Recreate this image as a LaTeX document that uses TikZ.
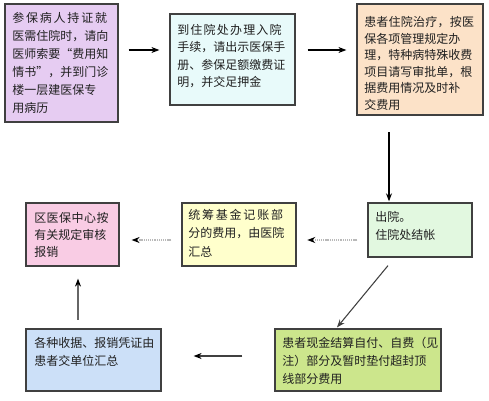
\documentclass[tikz,border=0pt]{standalone}
\usepackage{fontspec}
\newfontfamily\cjk{Noto Sans CJK SC}
\usetikzlibrary{arrows.meta,fit}
\definecolor{c1}{HTML}{E6CCF2}
\definecolor{c2}{HTML}{E8FAFA}
\definecolor{c3}{HTML}{FCE2C8}
\definecolor{c4}{HTML}{E2F8E0}
\definecolor{c5}{HTML}{FFFFCC}
\definecolor{c6}{HTML}{F9CCE4}
\definecolor{c7}{HTML}{CCE0F8}
\definecolor{c8}{HTML}{CCE68C}
\definecolor{edge}{HTML}{404040}
\definecolor{ink}{HTML}{202020}
\tikzset{
  box/.style={draw=edge, line width=0.9pt, inner sep=0pt, rectangle},
  txt/.style={inner sep=0pt, align=left, text=ink, anchor=base west,
    font=\cjk\fontsize{9}{#1}\selectfont},
  arr/.style={draw=black, line width=0.8pt, -{Stealth[length=6pt,width=4.5pt]}},
  dotarr/.style={draw=gray!55, line width=1.3pt, dash pattern=on 0.8pt off 0.6pt,
    -{Stealth[length=6pt,width=4.5pt,black]}},
  grayarr/.style={draw=gray!80!black, line width=1.1pt, -{Stealth[length=6pt,width=4.5pt,black]}},
}
\begin{document}
\begin{tikzpicture}[x=0.75pt,y=-0.75pt]
\useasboundingbox (0,0) rectangle (489,400);
% boxes
\node[box, fill=c1, fit={(5,4) (118,122)}] (b1) {};
\node[box, fill=c2, fit={(170,14) (295,105)}] (b2) {};
\node[box, fill=c3, fit={(357,4) (483,115)}] (b3) {};
\node[box, fill=c4, fit={(368,203) (472,257)}] (b4) {};
\node[box, fill=c5, fit={(182,203) (296,266)}] (b5) {};
\node[box, fill=c6, fit={(26,203) (119,266)}] (b6) {};
\node[box, fill=c7, fit={(26,329) (161,391)}] (b7) {};
\node[box, fill=c8, fit={(275,329) (441,391)}] (b8) {};
% texts (anchor = baseline of the last line)
\node[txt=13.5pt] (t1) at (12,112.5) {\addfontfeature{LetterSpace=15}参保病人持证就\\医需住院时，请向\\医师索要“费用知\\情书”，并到门诊\\楼一层建医保专\\用病历};
\node[txt=13pt] (t2) at (177,86.5) {\addfontfeature{LetterSpace=10}到住院处办理入院\\手续，请出示医保手\\册、参保足额缴费证\\明，并交足押金};
\node[txt=12.45pt] (t3) at (364,109.5) {\addfontfeature{LetterSpace=2}患者住院治疗，按医\\保各项管理规定办\\理，特种病特殊收费\\项目请写审批单，根\\据费用情况及时补\\交费用};
\node[txt=13.5pt] (t4) at (375,239.5) {出院。\\住院处结帐};
\node[txt=13.9pt] (t5) at (188,256.5) {\addfontfeature{LetterSpace=15}统筹基金记账部\\分的费用，由医院\\汇总};
\node[txt=12.75pt] (t6) at (34,256.5) {\addfontfeature{LetterSpace=4}区医保中心按\\有关规定审核\\报销};
\node[txt=13.5pt] (t7) at (34,365.5) {各种收据、报销凭证由\\患者交单位汇总};
\node[txt=13.5pt] (t8) at (282,383.5) {患者现金结算自付、自费（见\\注）部分及暂时垫付超封顶\\线部分费用};
% helper coordinates
\coordinate (ya) at (0,50);
\coordinate (yb) at (0,240);
\coordinate (yc) at (0,356);
\coordinate (xa) at (389,0);
\coordinate (xb) at (78,0);
% connectors
\draw[arr, shorten <=7.5pt, shorten >=7.5pt] (b1.east |- ya) -- (b2.west |- ya);
\draw[arr, shorten <=9pt, shorten >=7.5pt] (b2.east |- ya) -- (b3.west |- ya);
\draw[arr, shorten <=12.5pt, shorten >=0.8pt] (b3.south -| xa) -- (b4.north -| xa);
\draw[dotarr, shorten <=7.5pt, shorten >=8pt] (b4.west |- yb) -- (b5.east |- yb);
\draw[dotarr, shorten <=7.5pt, shorten >=9pt] (b5.west |- yb) -- (b6.east |- yb);
\draw[grayarr, shorten <=6.5pt, shorten >=9pt] (b7.north -| xb) -- (b6.south -| xb);
\draw[grayarr, draw=edge, shorten <=24pt, shorten >=24pt] (b8.west |- yc) -- (b7.east |- yc);
\draw[arr, draw=edge] ([shift={(-32,8)}]b4.south) -- ([shift={(-21,-1)}]b8.north);
\end{tikzpicture}
\end{document}
